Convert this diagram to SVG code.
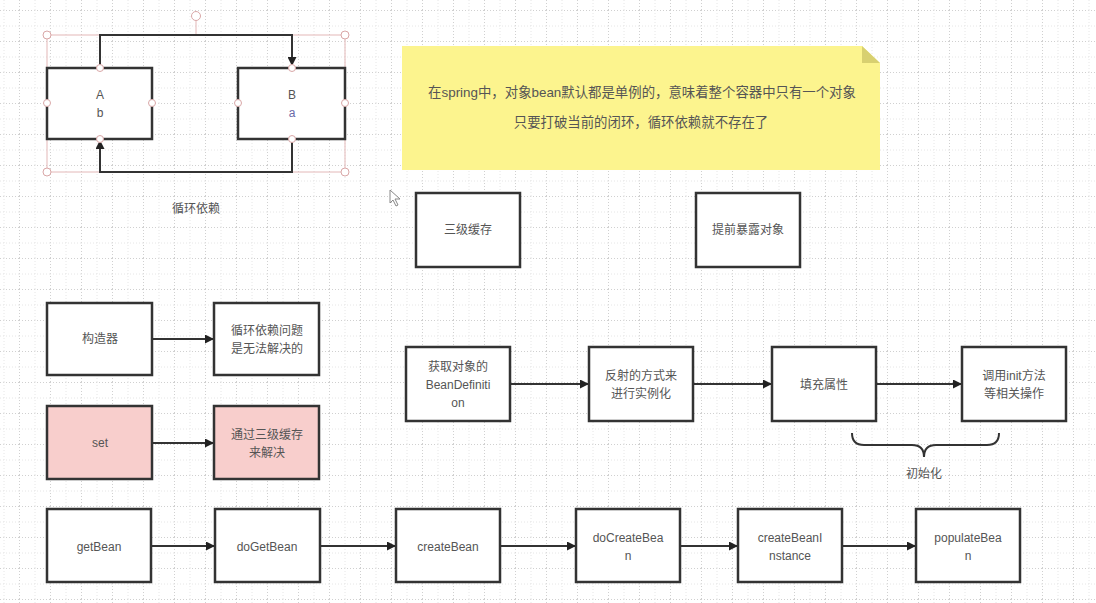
<svg xmlns="http://www.w3.org/2000/svg" width="1096" height="603" viewBox="0 0 1096 603">
<defs>
<pattern id="grid" x="19" y="10" width="31" height="31" patternUnits="userSpaceOnUse">
<path d="M0.5 0V31M0 0.5H31" stroke="#d0d0d0" stroke-width="1" stroke-dasharray="1 2" fill="none"/>
<path d="M16 0V31M0 16H31" stroke="#e6e6e6" stroke-width="1" stroke-dasharray="1 2" fill="none"/>
</pattern>
<marker id="arr" viewBox="0 0 10 10" refX="10" refY="5" markerWidth="9" markerHeight="9" markerUnits="userSpaceOnUse" orient="auto">
<path d="M0,0 L10,5 L0,10 z" fill="#222"/>
</marker>
<style>
.box{fill:#fff;stroke:#333;stroke-width:2.5}
.pink{fill:#f8cecc}
.t{font-family:"Liberation Sans","Noto Sans CJK SC",sans-serif;font-size:12px;fill:#555;text-anchor:middle}
.n{font-family:"Liberation Sans","Noto Sans CJK SC",sans-serif;font-size:13.4px;fill:#555;text-anchor:middle}
.edge{fill:none;stroke:#333;stroke-width:2}
.cp{fill:#fff;stroke:#d9a7a7;stroke-width:1}
</style>
</defs>
<rect width="1096" height="603" fill="#fff"/>
<rect width="1096" height="603" fill="url(#grid)"/>

<!-- selection frame -->
<g id="selection">
<rect x="47" y="35" width="298" height="137" fill="none" stroke="#e3b8b8" stroke-width="1"/>
<line x1="196" y1="21" x2="196" y2="35" stroke="#e3b8b8"/>
<circle cx="196" cy="16" r="4.5" class="cp"/>
<circle cx="47" cy="35" r="4" class="cp"/>
<circle cx="345" cy="35" r="4" class="cp"/>
<circle cx="47" cy="172" r="4" class="cp"/>
<circle cx="345" cy="172" r="4" class="cp"/>
</g>

<g id="connectors">
<path class="edge" d="M100 68 V35 H292 V66" marker-end="url(#arr)" stroke-width="2.5"/>
<path class="edge" d="M292 138 V172 H100 V140" marker-end="url(#arr)" stroke-width="2.5"/>
<path class="edge" d="M152 339 H214" marker-end="url(#arr)"/>
<path class="edge" d="M152 443 H214" marker-end="url(#arr)"/>
<path class="edge" d="M510 384 H589" marker-end="url(#arr)"/>
<path class="edge" d="M693 384 H772" marker-end="url(#arr)"/>
<path class="edge" d="M876 384 H962" marker-end="url(#arr)"/>
<path class="edge" d="M151 546 H215" marker-end="url(#arr)"/>
<path class="edge" d="M320 546 H396" marker-end="url(#arr)"/>
<path class="edge" d="M500 546 H576" marker-end="url(#arr)"/>
<path class="edge" d="M680 546 H738" marker-end="url(#arr)"/>
<path class="edge" d="M842 546 H916" marker-end="url(#arr)"/>
</g>

<g id="nodeA">
<rect x="47" y="68" width="105" height="71" class="box"/>
<text x="100" y="99" class="t">A</text>
<text x="100" y="117" class="t">b</text>
<circle cx="100" cy="68" r="3.5" class="cp"/>
<circle cx="100" cy="139" r="3.5" class="cp"/>
<circle cx="47" cy="103" r="3.5" class="cp"/>
<circle cx="152" cy="103" r="3.5" class="cp"/>
</g>
<g id="nodeB">
<rect x="238" y="68" width="107" height="71" class="box"/>
<text x="292" y="99" class="t">B</text>
<text x="292" y="117" class="t" style="fill:#6a6aa8">a</text>
<circle cx="292" cy="68" r="3.5" class="cp"/>
<circle cx="292" cy="139" r="3.5" class="cp"/>
<circle cx="238" cy="103" r="3.5" class="cp"/>
<circle cx="345" cy="103" r="3.5" class="cp"/>
</g>
<g id="label-cycle">
<text x="196" y="213" class="t">循环依赖</text>
</g>

<g id="note">
<path d="M402 46 H862 L880 63 V170 H402 Z" fill="#fcf48e"/>
<path d="M862 46 V63 H880 Z" fill="#d8d070"/>
<text x="642" y="97" class="n">在spring中，对象bean默认都是单例的，意味着整个容器中只有一个对象</text>
<text x="641" y="127" class="n">只要打破当前的闭环，循环依赖就不存在了</text>
</g>

<g id="cursor">
<path d="M390 190 V203 L393 200 L396 206 L398 205 L395 199 L400 199 Z" fill="#fff" stroke="#888" stroke-width="1"/>
</g>

<g id="cache3">
<rect x="416" y="193" width="104" height="74" class="box"/>
<text x="468" y="234" class="t">三级缓存</text>
</g>
<g id="early">
<rect x="696" y="193" width="104" height="74" class="box"/>
<text x="748" y="234" class="t">提前暴露对象</text>
</g>

<g id="ctor">
<rect x="47" y="303" width="105" height="72" class="box"/>
<text x="100" y="343" class="t">构造器</text>
</g>
<g id="ctor-result">
<rect x="214" y="303" width="105" height="72" class="box"/>
<text x="267" y="335" class="t">循环依赖问题</text>
<text x="267" y="353" class="t">是无法解决的</text>
</g>
<g id="set">
<rect x="47" y="406" width="105" height="73" class="box pink"/>
<text x="100" y="447" class="t">set</text>
</g>
<g id="set-result">
<rect x="214" y="406" width="105" height="73" class="box pink"/>
<text x="267" y="439" class="t">通过三级缓存</text>
<text x="267" y="457" class="t">来解决</text>
</g>

<g id="step1">
<rect x="406" y="347" width="104" height="74" class="box"/>
<text x="458" y="371" class="t">获取对象的</text>
<text x="458" y="389" class="t">BeanDefiniti</text>
<text x="458" y="407" class="t">on</text>
</g>
<g id="step2">
<rect x="589" y="347" width="104" height="74" class="box"/>
<text x="641" y="380" class="t">反射的方式来</text>
<text x="641" y="398" class="t">进行实例化</text>
</g>
<g id="step3">
<rect x="772" y="347" width="104" height="74" class="box"/>
<text x="824" y="389" class="t">填充属性</text>
</g>
<g id="step4">
<rect x="962" y="347" width="104" height="74" class="box"/>
<text x="1014" y="380" class="t">调用init方法</text>
<text x="1014" y="398" class="t">等相关操作</text>
</g>
<g id="init-brace">
<path d="M852 433 Q852 445 864 445 H912 Q924 445 924 457 Q924 445 936 445 H987 Q999 445 999 433" fill="none" stroke="#333" stroke-width="2"/>
<text x="924" y="478" class="t">初始化</text>
</g>

<g id="getBean">
<rect x="47" y="509" width="104" height="73" class="box"/>
<text x="99" y="551" class="t">getBean</text>
</g>
<g id="doGetBean">
<rect x="215" y="509" width="105" height="73" class="box"/>
<text x="267" y="551" class="t">doGetBean</text>
</g>
<g id="createBean">
<rect x="396" y="509" width="104" height="73" class="box"/>
<text x="448" y="551" class="t">createBean</text>
</g>
<g id="doCreateBean">
<rect x="576" y="509" width="104" height="73" class="box"/>
<text x="628" y="542" class="t">doCreateBea</text>
<text x="628" y="560" class="t">n</text>
</g>
<g id="createBeanInstance">
<rect x="738" y="509" width="104" height="73" class="box"/>
<text x="790" y="542" class="t">createBeanI</text>
<text x="790" y="560" class="t">nstance</text>
</g>
<g id="populateBean">
<rect x="916" y="509" width="104" height="73" class="box"/>
<text x="968" y="542" class="t">populateBea</text>
<text x="968" y="560" class="t">n</text>
</g>
</svg>
